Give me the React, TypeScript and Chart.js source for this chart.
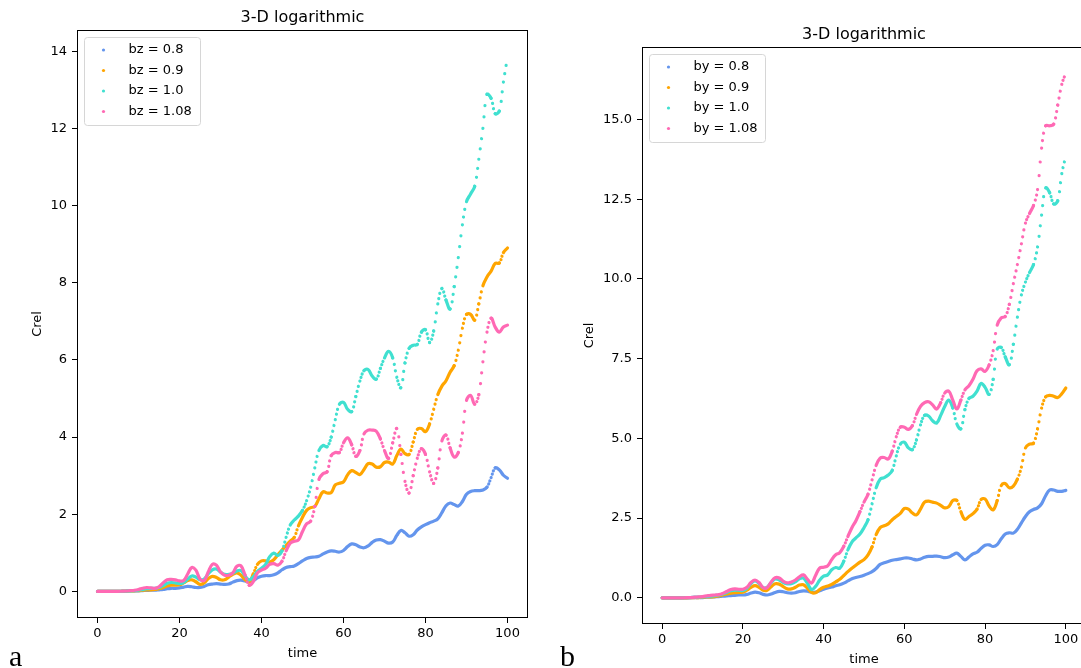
import React, { useEffect, useRef } from 'react';
import { Chart, registerables } from 'chart.js';
Chart.register(...registerables);

Chart.defaults.font.family = "'DejaVu Sans', sans-serif";
Chart.defaults.font.size = 13;
Chart.defaults.color = '#000';

const time = [
  0, 1, 2, 3, 4, 5, 6, 7, 8, 9,
  10, 11, 12, 13, 14, 15, 16, 17, 18, 19,
  20, 21, 22, 23, 24, 25, 26, 27, 28, 29,
  30, 31, 32, 33, 34, 35, 36, 37, 38, 39,
  40, 41, 42, 43, 44, 45, 46, 47, 48, 49,
  50, 51, 52, 53, 54, 55, 56, 57, 58, 59,
  60, 61, 62, 63, 64, 65, 66, 67, 68, 69,
  70, 71, 72, 73, 74, 75, 76, 77, 78, 79,
  80, 81, 82, 83, 84, 85, 86, 87, 88, 89,
  90, 91, 92, 93, 94, 95, 96, 97, 98, 99,
  100,
];

const labelsA = ['bz = 0.8', 'bz = 0.9', 'bz = 1.0', 'bz = 1.08'];
const labelsB = ['by = 0.8', 'by = 0.9', 'by = 1.0', 'by = 1.08'];
const colors = ['#6495ED', '#FFA500', '#40E0D0', '#FF69B4'];

// Panel a (bz)
const bz08 = [
  0, 0, 0, 0, 0, 0, 0, 0.005, 0.01, 0.01,
  0.015, 0.02, 0.025, 0.03, 0.03, 0.04, 0.05, 0.07, 0.08, 0.08,
  0.09, 0.11, 0.13, 0.12, 0.10, 0.10, 0.13, 0.17, 0.19, 0.20,
  0.19, 0.18, 0.19, 0.24, 0.28, 0.29, 0.27, 0.25, 0.28, 0.35,
  0.39, 0.41, 0.41, 0.43, 0.48, 0.56, 0.62, 0.64, 0.66, 0.72,
  0.79, 0.85, 0.88, 0.89, 0.91, 0.97, 1.02, 1.05, 1.04, 1.02,
  1.06, 1.16, 1.23, 1.21, 1.15, 1.13, 1.18, 1.27, 1.33, 1.34,
  1.30, 1.25, 1.28, 1.45, 1.58, 1.52, 1.43, 1.47, 1.59, 1.67,
  1.73, 1.78, 1.82, 1.88, 2.04, 2.22, 2.29, 2.25, 2.21, 2.33,
  2.52, 2.59, 2.61, 2.61, 2.63, 2.70, 2.95, 3.20, 3.15, 3.01,
  2.93,
];
const bz09 = [
  0, 0, 0, 0, 0, 0, 0.005, 0.01, 0.01, 0.015,
  0.02, 0.03, 0.04, 0.04, 0.05, 0.07, 0.10, 0.14, 0.16, 0.16,
  0.17, 0.22, 0.28, 0.30, 0.25, 0.18, 0.22, 0.33, 0.39, 0.36,
  0.30, 0.30, 0.37, 0.44, 0.48, 0.42, 0.30, 0.24, 0.45, 0.70,
  0.79, 0.79, 0.76, 0.82, 0.95, 1.07, 1.19, 1.30, 1.40, 1.70,
  1.92, 2.10, 2.17, 2.20, 2.40, 2.58, 2.55, 2.56, 2.76, 2.80,
  2.84, 3.02, 3.13, 3.08, 3.03, 3.16, 3.31, 3.30, 3.22, 3.23,
  3.34, 3.35, 3.30, 3.52, 3.69, 3.57, 3.55, 3.87, 4.20, 4.22,
  4.14, 4.34, 4.72, 5.10, 5.32, 5.46, 5.68, 5.85, 6.25, 6.82,
  7.18, 7.18, 7.03, 7.45, 7.92, 8.15, 8.30, 8.50, 8.51, 8.78,
  8.90,
];
const bz10 = [
  0, 0, 0, 0, 0, 0, 0.005, 0.01, 0.015, 0.02,
  0.03, 0.05, 0.07, 0.08, 0.08, 0.10, 0.15, 0.21, 0.23, 0.22,
  0.20, 0.23, 0.32, 0.40, 0.37, 0.30, 0.32, 0.45, 0.56, 0.58,
  0.50, 0.44, 0.44, 0.47, 0.53, 0.54, 0.40, 0.30, 0.38, 0.52,
  0.60, 0.70, 0.90, 0.99, 0.93, 1.05, 1.40, 1.72, 1.85, 1.95,
  2.10, 2.35, 2.70, 3.20, 3.65, 3.78, 3.75, 4.00, 4.45, 4.85,
  4.90, 4.72, 4.66, 5.05, 5.45, 5.72, 5.75, 5.58, 5.50, 5.78,
  6.05, 6.22, 6.05, 5.55, 5.28, 5.92, 6.30, 6.38, 6.40, 6.72,
  6.78, 6.45, 6.75, 7.45, 7.85, 7.55, 7.32, 7.90, 8.65, 9.50,
  10.10, 10.30, 10.50, 11.20, 12.00, 12.88, 12.78, 12.38, 12.45, 13.20,
  13.85,
];
const bz108 = [
  0, 0, 0, 0, 0, 0, 0.005, 0.01, 0.02, 0.03,
  0.05, 0.08, 0.10, 0.09, 0.08, 0.12, 0.22, 0.30, 0.31, 0.30,
  0.27, 0.28, 0.45, 0.62, 0.55, 0.32, 0.28, 0.50, 0.70, 0.68,
  0.50, 0.42, 0.42, 0.48, 0.65, 0.66, 0.42, 0.16, 0.25, 0.48,
  0.55, 0.60, 0.70, 0.72, 0.68, 0.78, 1.05, 1.25, 1.30, 1.33,
  1.55, 1.75, 1.82, 2.20, 2.90, 3.05, 3.10, 3.52, 3.60, 3.60,
  3.85, 3.98, 3.80, 3.50, 3.65, 4.08, 4.18, 4.18, 4.15, 3.95,
  3.65, 3.45, 3.85, 4.22, 3.55, 2.85, 2.55, 3.00, 3.45, 3.70,
  3.55, 3.10, 2.80, 3.20, 3.90, 4.05, 3.72, 3.48, 3.60, 4.10,
  4.95, 5.08, 4.85, 5.10, 5.95, 6.72, 7.08, 6.85, 6.72, 6.85,
  6.90,
];

// Panel b (by)
const by08 = [
  0, 0, 0, 0, 0, 0, 0, 0, 0.005, 0.01,
  0.01, 0.02, 0.02, 0.03, 0.04, 0.05, 0.06, 0.07, 0.08, 0.09,
  0.09, 0.11, 0.15, 0.18, 0.16, 0.11, 0.09, 0.12, 0.17, 0.20,
  0.19, 0.16, 0.15, 0.16, 0.20, 0.22, 0.21, 0.18, 0.18, 0.22,
  0.27, 0.31, 0.34, 0.38, 0.41, 0.46, 0.53, 0.60, 0.64, 0.67,
  0.71, 0.76, 0.82, 0.92, 1.05, 1.10, 1.14, 1.18, 1.20, 1.22,
  1.25, 1.25, 1.22, 1.19, 1.22, 1.27, 1.30, 1.30, 1.31, 1.29,
  1.26, 1.28, 1.35, 1.40, 1.30, 1.19, 1.28, 1.38, 1.43, 1.55,
  1.65, 1.66, 1.61, 1.67, 1.85, 2.00, 2.04, 2.03, 2.15, 2.35,
  2.55, 2.70, 2.77, 2.82, 2.95, 3.20, 3.38, 3.38, 3.34, 3.34,
  3.37,
];
const by09 = [
  0, 0, 0, 0, 0, 0, 0, 0.005, 0.01, 0.01,
  0.02, 0.03, 0.03, 0.04, 0.06, 0.09, 0.12, 0.15, 0.16, 0.17,
  0.18, 0.24, 0.33, 0.38, 0.33, 0.24, 0.24, 0.35, 0.44, 0.43,
  0.35, 0.28, 0.28, 0.33, 0.40, 0.41, 0.30, 0.17, 0.16, 0.26,
  0.33, 0.37, 0.42, 0.50, 0.58, 0.70, 0.82, 0.93, 1.02, 1.12,
  1.20, 1.35, 1.60, 1.98, 2.20, 2.26, 2.32, 2.45, 2.55, 2.65,
  2.80, 2.78, 2.66, 2.60, 2.78, 3.00, 3.03, 3.00, 2.97, 2.90,
  2.82, 2.86, 3.05, 3.05, 2.70, 2.46, 2.55, 2.64, 2.78, 3.08,
  3.10, 2.88, 2.76, 3.05, 3.52, 3.58, 3.45, 3.50, 3.72, 4.10,
  4.70, 4.82, 4.85, 5.30, 5.95, 6.30, 6.35, 6.32, 6.28, 6.40,
  6.58,
];
const by10 = [
  0, 0, 0, 0, 0, 0, 0.005, 0.01, 0.02, 0.02,
  0.03, 0.04, 0.05, 0.07, 0.09, 0.12, 0.17, 0.22, 0.24, 0.24,
  0.23, 0.30, 0.45, 0.53, 0.45, 0.32, 0.33, 0.48, 0.59, 0.56,
  0.48, 0.44, 0.44, 0.50, 0.60, 0.62, 0.45, 0.26, 0.36, 0.55,
  0.68, 0.72, 0.88, 0.95, 0.93, 1.15, 1.50, 1.75, 1.88, 2.00,
  2.20, 2.45, 2.95, 3.45, 3.72, 3.77, 3.85, 4.00, 4.45, 4.82,
  4.88, 4.70, 4.65, 4.95, 5.42, 5.72, 5.70, 5.55, 5.48, 5.72,
  6.00, 6.20, 5.95, 5.45, 5.30, 5.90, 6.25, 6.32, 6.48, 6.72,
  6.60, 6.38, 6.85, 7.80, 7.85, 7.55, 7.31, 7.95, 8.80, 9.50,
  9.90, 10.20, 10.45, 11.00, 12.00, 12.85, 12.70, 12.35, 12.45, 13.30,
  13.85,
];
const by108 = [
  0, 0, 0, 0, 0, 0, 0.005, 0.01, 0.02, 0.03,
  0.04, 0.06, 0.08, 0.09, 0.10, 0.14, 0.20, 0.26, 0.28, 0.27,
  0.27, 0.33, 0.48, 0.56, 0.48, 0.32, 0.32, 0.50, 0.63, 0.62,
  0.52, 0.47, 0.50, 0.56, 0.66, 0.72, 0.58, 0.46, 0.70, 0.93,
  0.96, 1.00, 1.20, 1.35, 1.42, 1.62, 1.92, 2.20, 2.42, 2.70,
  3.00, 3.25, 3.70, 4.15, 4.38, 4.40, 4.35, 4.60, 5.05, 5.35,
  5.35, 5.28, 5.40, 5.75, 6.00, 6.12, 6.15, 6.05, 5.92, 6.12,
  6.42, 6.48, 6.20, 5.92, 6.20, 6.52, 6.65, 6.85, 7.12, 7.18,
  7.10, 7.30, 7.75, 8.55, 8.78, 8.82, 9.20, 9.85, 10.45, 11.10,
  11.75, 12.05, 12.30, 12.80, 14.10, 14.80, 14.80, 14.85, 15.45, 16.10,
  16.45,
];

const xTicks = [0, 20, 40, 60, 80, 100];
const yTicksA = [0, 2, 4, 6, 8, 10, 12, 14];
const yTicksB = [0, 2.5, 5, 7.5, 10, 12.5, 15];

const plotTitle = '3-D logarithmic';

// steep parts of the reference are visibly dotted (sampled scatter); emulate with dash
const segDash = (ctx: any) => {
  const dx = Math.abs(ctx.p1.x - ctx.p0.x);
  const dy = Math.abs(ctx.p1.y - ctx.p0.y);
  const len = Math.sqrt(dx * dx + dy * dy);
  const sp = len / 3;
  return sp > 3.4 ? [0.01, sp] : [];
};

function decorPlugin(labels: string[]) {
  return {
    id: 'decor',
    afterDraw(chart: any) {
      const { ctx, chartArea: ca } = chart;
      ctx.save();
      // frame (all four spines)
      ctx.strokeStyle = '#000';
      ctx.lineWidth = 1;
      const l = Math.round(ca.left) + 0.5;
      const t = Math.round(ca.top) + 0.5;
      const r0 = Math.round(ca.right) - 0.5;
      const b0 = Math.round(ca.bottom) - 0.5;
      ctx.strokeRect(l, t, r0 - l, b0 - t);
      // title
      ctx.fillStyle = '#000';
      ctx.font = "16px 'DejaVu Sans', sans-serif";
      ctx.textAlign = 'center';
      ctx.textBaseline = 'middle';
      ctx.fillText(plotTitle, (ca.left + ca.right) / 2, ca.top - 12.5);
      // legend
      const bx = Math.round(ca.left) + 7.5;
      const by = Math.round(ca.top) + 7.5;
      const bw = 116;
      const bh = 88;
      const r = 3;
      ctx.beginPath();
      ctx.moveTo(bx + r, by);
      ctx.lineTo(bx + bw - r, by);
      ctx.quadraticCurveTo(bx + bw, by, bx + bw, by + r);
      ctx.lineTo(bx + bw, by + bh - r);
      ctx.quadraticCurveTo(bx + bw, by + bh, bx + bw - r, by + bh);
      ctx.lineTo(bx + r, by + bh);
      ctx.quadraticCurveTo(bx, by + bh, bx, by + bh - r);
      ctx.lineTo(bx, by + r);
      ctx.quadraticCurveTo(bx, by, bx + r, by);
      ctx.closePath();
      ctx.fillStyle = 'rgba(255,255,255,0.8)';
      ctx.fill();
      ctx.strokeStyle = '#d6d6d6';
      ctx.stroke();
      ctx.font = "13px 'DejaVu Sans', sans-serif";
      ctx.textAlign = 'left';
      labels.forEach((lab, i) => {
        const y = by + 12.5 + i * 20.5;
        ctx.fillStyle = colors[i];
        ctx.beginPath();
        ctx.arc(bx + 19, y, 1.6, 0, Math.PI * 2);
        ctx.fill();
        ctx.fillStyle = '#000';
        ctx.fillText(lab, bx + 44, y);
      });
      ctx.restore();
    },
  };
}

type Geo = {
  yAxisW: number;
  yTitlePad: number;
  xAxisH: number;
  xTitlePadBottom: number;
  padRight: number;
  padTop: number;
};

function makeConfig(
  series: number[][],
  labels: string[],
  yMin: number,
  yMax: number,
  yTicks: number[],
  yFmt: (v: number) => string,
  geo: Geo
): any {
  const datasets = series.map((arr, i) => ({
    label: labels[i],
    data: time.map((t, k) => ({ x: t, y: arr[k] })),
    borderColor: colors[i],
    backgroundColor: colors[i],
    borderWidth: 3.2,
    borderCapStyle: 'round',
    borderJoinStyle: 'round',
    pointRadius: 0,
    tension: 0.4,
    showLine: true,
    order: 4 - i,
    segment: { borderDash: segDash },
  }));
  return {
    type: 'scatter',
    data: { datasets },
    options: {
      animation: false,
      responsive: false,
      maintainAspectRatio: false,
      devicePixelRatio: 1,
      layout: { padding: { left: 0, right: geo.padRight, top: geo.padTop, bottom: 0 } },
      plugins: { legend: { display: false }, title: { display: false }, tooltip: { enabled: false } },
      scales: {
        x: {
          type: 'linear',
          min: -5,
          max: 105,
          afterBuildTicks: (s: any) => {
            s.ticks = xTicks.map((v) => ({ value: v }));
          },
          afterFit: (s: any) => {
            s.height = geo.xAxisH;
            s.paddingLeft = 0;
            s.paddingRight = 0;
          },
          grid: { display: true, drawOnChartArea: false, drawTicks: true, tickLength: 5, color: '#000', lineWidth: 1 },
          border: { display: false },
          ticks: {
            color: '#000',
            font: { size: 13 },
            padding: 3,
            maxRotation: 0,
            autoSkip: false,
            callback: (v: any) => String(v),
          },
          title: {
            display: true,
            text: 'time',
            color: '#000',
            font: { size: 13 },
            padding: { top: 0, bottom: geo.xTitlePadBottom },
          },
        },
        y: {
          type: 'linear',
          min: yMin,
          max: yMax,
          afterBuildTicks: (s: any) => {
            s.ticks = yTicks.map((v) => ({ value: v }));
          },
          afterFit: (s: any) => {
            s.width = geo.yAxisW;
            s.paddingTop = 0;
            s.paddingBottom = 0;
          },
          grid: { display: true, drawOnChartArea: false, drawTicks: true, tickLength: 5, color: '#000', lineWidth: 1 },
          border: { display: false },
          ticks: {
            color: '#000',
            font: { size: 13 },
            padding: 5,
            autoSkip: false,
            callback: (v: any) => yFmt(Number(v)),
          },
          title: {
            display: true,
            text: 'Crel',
            color: '#000',
            font: { size: 13 },
            padding: { top: geo.yTitlePad, bottom: 0 },
          },
        },
      },
    },
    plugins: [decorPlugin(labels)],
  };
}

export default function App() {
  const refA = useRef<HTMLCanvasElement>(null);
  const refB = useRef<HTMLCanvasElement>(null);

  useEffect(() => {
    const chartA = new Chart(
      refA.current as HTMLCanvasElement,
      makeConfig([bz08, bz09, bz10, bz108], labelsA, -0.69, 14.55, yTicksA, (v) => String(v), {
        yAxisW: 77,
        yTitlePad: 30,
        xAxisH: 50,
        xTitlePadBottom: 7,
        padRight: 17,
        padTop: 30,
      })
    );
    const chartB = new Chart(
      refB.current as HTMLCanvasElement,
      makeConfig([by08, by09, by10, by108], labelsB, -0.82, 17.27, yTicksB, (v) => v.toFixed(1), {
        yAxisW: 82,
        yTitlePad: 22,
        xAxisH: 44,
        xTitlePadBottom: 1,
        padRight: 14,
        padTop: 47,
      })
    );
    return () => {
      chartA.destroy();
      chartB.destroy();
    };
  }, []);

  const letter: React.CSSProperties = {
    position: 'absolute',
    font: "30px 'Liberation Serif', 'DejaVu Serif', serif",
    lineHeight: 1,
    color: '#000',
  };

  return (
    <div
      style={{
        position: 'fixed',
        left: 0,
        top: 0,
        width: 1081,
        height: 668,
        overflow: 'hidden',
        background: '#fff',
      }}
    >
      <canvas
        ref={refA}
        width={545}
        height={668}
        style={{ position: 'absolute', left: 0, top: 0, width: 545, height: 668 }}
      />
      <canvas
        ref={refB}
        width={540}
        height={668}
        style={{ position: 'absolute', left: 560, top: 0, width: 540, height: 668 }}
      />
      <div style={{ ...letter, left: 9, top: 641 }}>a</div>
      <div style={{ ...letter, left: 560, top: 641 }}>b</div>
    </div>
  );
}
